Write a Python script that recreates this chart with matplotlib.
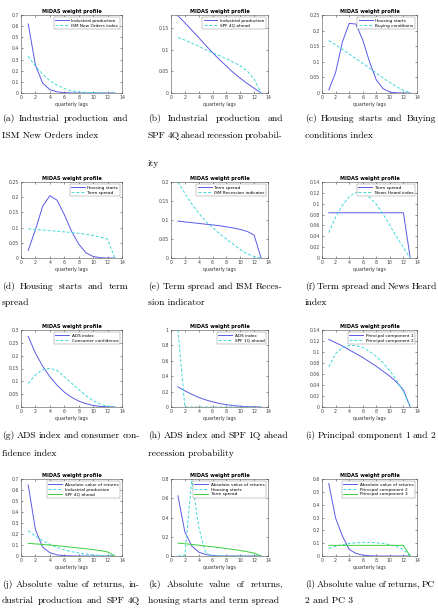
import matplotlib
matplotlib.use("Agg")
import matplotlib.pyplot as plt
from matplotlib.ticker import MultipleLocator, FormatStrFormatter

W, H = 438, 613

lags = list(range(1, 14))

# (a)
a_ip = [0.62, 0.25, 0.09, 0.03, 0.01, 0.003, 0.001, 0, 0, 0, 0, 0, 0]
a_ism = [0.33, 0.24, 0.17, 0.11, 0.07, 0.04, 0.02, 0.01, 0.006, 0.003, 0.001, 0, 0]
# (b)
b_ip = [0.178, 0.162, 0.145, 0.128, 0.110, 0.093, 0.077, 0.062, 0.047, 0.034, 0.022, 0.011, 0]
b_spf = [0.128, 0.122, 0.115, 0.108, 0.100, 0.093, 0.086, 0.079, 0.071, 0.063, 0.051, 0.032, 0]
# (c)
c_hs = [0.01, 0.065, 0.163, 0.223, 0.221, 0.17, 0.10, 0.042, 0.014, 0.003, 0.0005, 0, 0]
c_buy = [0.168, 0.155, 0.14, 0.125, 0.11, 0.095, 0.08, 0.064, 0.048, 0.034, 0.02, 0.008, 0.001]
# (d)
d_hs = [0.025, 0.093, 0.17, 0.205, 0.19, 0.143, 0.088, 0.046, 0.017, 0.005, 0.001, 0, 0]
d_ts = [0.096, 0.094, 0.092, 0.09, 0.088, 0.086, 0.084, 0.081, 0.078, 0.074, 0.069, 0.062, 0]
# (e)
e_ts = [0.097, 0.095, 0.093, 0.091, 0.089, 0.087, 0.085, 0.082, 0.079, 0.075, 0.07, 0.06, 0]
e_ism = [0.2, 0.17, 0.142, 0.118, 0.097, 0.08, 0.064, 0.05, 0.036, 0.022, 0.011, 0.004, 0]
# (f)
f_ts = [0.0833] * 12 + [0]
f_news = [0.047, 0.075, 0.097, 0.113, 0.121, 0.12, 0.112, 0.099, 0.081, 0.06, 0.039, 0.019, 0]
# (g)
g_ads = [0.275, 0.21, 0.159, 0.118, 0.085, 0.058, 0.038, 0.023, 0.013, 0.006, 0.002, 0.001, 0]
g_cc = [0.092, 0.125, 0.145, 0.151, 0.142, 0.118, 0.093, 0.068, 0.044, 0.024, 0.01, 0.003, 0]
# (h)
h_ads = [0.26, 0.21, 0.165, 0.125, 0.093, 0.067, 0.046, 0.03, 0.018, 0.01, 0.005, 0.002, 0]
h_spf = [1.0, 0, 0, 0, 0, 0, 0, 0, 0, 0, 0, 0, 0]
# (i)
i_pc1 = [0.123, 0.117, 0.111, 0.104, 0.097, 0.09, 0.082, 0.074, 0.065, 0.056, 0.045, 0.031, 0]
i_pc2 = [0.073, 0.097, 0.108, 0.112, 0.112, 0.108, 0.101, 0.092, 0.08, 0.066, 0.048, 0.028, 0]
# (j)
j_abs = [0.645, 0.24, 0.08, 0.03, 0.01, 0.003, 0.001, 0, 0, 0, 0, 0, 0]
j_ip = [0.23, 0.18, 0.14, 0.105, 0.078, 0.056, 0.04, 0.027, 0.017, 0.01, 0.005, 0.002, 0]
j_spf = [0.115, 0.11, 0.105, 0.099, 0.093, 0.087, 0.08, 0.073, 0.066, 0.058, 0.049, 0.037, 0]
# (k)
k_abs = [0.625, 0.25, 0.104, 0.04, 0.015, 0.005, 0.001, 0, 0, 0, 0, 0, 0]
k_hs = [0, 0.01, 0.8, 0.3, 0.03, 0.002, 0, 0, 0, 0, 0, 0, 0]
k_ts = [0.134, 0.127, 0.12, 0.112, 0.104, 0.096, 0.087, 0.078, 0.068, 0.057, 0.045, 0.03, 0]
# (l)
l_abs = [0.565, 0.296, 0.156, 0.052, 0.02, 0.007, 0.002, 0, 0, 0, 0, 0, 0]
l_pc2 = [0.06, 0.075, 0.088, 0.097, 0.103, 0.106, 0.106, 0.103, 0.098, 0.089, 0.074, 0.05, 0]
l_pc3 = [0.083] * 12 + [0]

captions = {
    "a": ["(a) Industrial production and", "ISM New Orders index"],
    "b": ["(b) Industrial production and", "SPF 4Q ahead recession probabil-", "ity"],
    "c": ["(c) Housing starts and Buying", "conditions index"],
    "d": ["(d) Housing starts and term", "spread"],
    "e": ["(e) Term spread and ISM Reces-", "sion indicator"],
    "f": ["(f) Term spread and News Heard", "index"],
    "g": ["(g) ADS index and consumer con-", "fidence index"],
    "h": ["(h) ADS index and SPF 1Q ahead", "recession probability"],
    "i": ["(i) Principal component 1 and 2"],
    "j": ["(j) Absolute value of returns, in-", "dustrial production and SPF 4Q"],
    "k": ["(k) Absolute value of returns,", "housing starts and term spread"],
    "l": ["(l) Absolute value of returns, PC", "2 and PC 3"],
}

BLUE = "#5a5ae6"
CYAN = "#3ed8d8"
GREEN = "#3ccf3c"

panels = [
    ("a", [(a_ip, "Industrial production", BLUE), (a_ism, "ISM New Orders index", CYAN)], 0.7, 0.1),
    ("b", [(b_ip, "Industrial production", BLUE), (b_spf, "SPF 4Q ahead", CYAN)], 0.18, 0.05),
    ("c", [(c_hs, "Housing starts", BLUE), (c_buy, "Buying conditions", CYAN)], 0.25, 0.05),
    ("d", [(d_hs, "Housing starts", BLUE), (d_ts, "Term spread", CYAN)], 0.25, 0.05),
    ("e", [(e_ts, "Term spread", BLUE), (e_ism, "ISM Recession indicator", CYAN)], 0.2, 0.05),
    ("f", [(f_ts, "Term spread", BLUE), (f_news, "News Heard index", CYAN)], 0.14, 0.02),
    ("g", [(g_ads, "ADS index", BLUE), (g_cc, "Consumer confidence", CYAN)], 0.3, 0.05),
    ("h", [(h_ads, "ADS index", BLUE), (h_spf, "SPF 1Q ahead", CYAN)], 1.0, 0.2),
    ("i", [(i_pc1, "Principal component 1", BLUE), (i_pc2, "Principal component 2", CYAN)], 0.14, 0.02),
    ("j", [(j_abs, "Absolute value of returns", BLUE), (j_ip, "Industrial production", CYAN),
           (j_spf, "SPF 4Q ahead", GREEN)], 0.7, 0.1),
    ("k", [(k_abs, "Absolute value of returns", BLUE), (k_hs, "Housing starts", CYAN),
           (k_ts, "Term spread", GREEN)], 0.8, 0.2),
    ("l", [(l_abs, "Absolute value of returns", BLUE), (l_pc2, "Principal component 2", CYAN),
           (l_pc3, "Principal component 3", GREEN)], 0.6, 0.1),
]

# pixel layout
col_left = [21, 171, 322]
col_right = [122, 268, 417]
row_top = [15, 182, 330, 479]
row_bot = [93, 258, 407, 556]
cap_left = [2, 148, 305]
cap_right = {"a": 128, "b": 283, "c": 436, "d": 128, "e": 283, "f": 437,
             "g": 140, "h": 288, "i": 435, "j": 140, "k": 283, "l": 435}
cap_base = [[121, 138, 166], [289, 305], [438, 456], [587, 603]]
justified = {"b": [True, True, False], "j": [True, True, False], "i": [True]}

fig = plt.figure(figsize=(W / 100, H / 100), dpi=100)
renderer = fig.canvas.get_renderer()
SERIF = ["cmr10", "DejaVu Serif"]
CAP_FS = 6.9


def caption_line(text, x0, x1, y, justify):
    if not justify:
        fig.text(x0 / W, 1 - y / H, text, family=SERIF, fontsize=CAP_FS, va="baseline", ha="left")
        return
    words = text.split(" ")
    objs = [fig.text(0, 1 - y / H, w, family=SERIF, fontsize=CAP_FS, va="baseline", ha="left") for w in words]
    widths = [o.get_window_extent(renderer).width for o in objs]
    gap = (x1 - x0 - sum(widths)) / max(len(words) - 1, 1)
    x = x0
    for o, wd in zip(objs, widths):
        o.set_x(x / W)
        x += wd + gap


for idx, (key, series, ytop, ystep) in enumerate(panels):
    r, c = divmod(idx, 3)
    l, t, rt, b = col_left[c], row_top[r], col_right[c], row_bot[r]
    ax = fig.add_axes([l / W, 1 - b / H, (rt - l) / W, (b - t) / H])
    for vals, label, color in series:
        ls = (0, (3, 2)) if color == CYAN else "-"
        ax.plot(lags, vals, color=color, linestyle=ls, linewidth=0.7, label=label)
    ax.set_xlim(0, 14)
    ax.set_ylim(0, ytop)
    ax.xaxis.set_major_locator(MultipleLocator(2))
    ax.yaxis.set_major_locator(MultipleLocator(ystep))
    ax.xaxis.set_major_formatter(FormatStrFormatter("%g"))
    ax.yaxis.set_major_formatter(FormatStrFormatter("%g"))
    ax.tick_params(direction="in", length=1.5, width=0.4, labelsize=3.3, pad=1.5,
                   colors="0.25", top=True, right=True)
    for sp in ax.spines.values():
        sp.set_linewidth(0.4)
        sp.set_color("0.3")
    ax.set_title("MIDAS weight profile", fontsize=3.6, fontweight="bold", pad=1.5)
    ax.set_xlabel("quarterly lags", fontsize=3.4, labelpad=1.5, color="0.2")
    leg = ax.legend(loc="upper right", fontsize=3.1, frameon=True, fancybox=False,
                    edgecolor="0.5", framealpha=1, borderpad=0.35, handlelength=3.2,
                    labelspacing=0.2, handletextpad=0.6, borderaxespad=0.5)
    leg.get_frame().set_linewidth(0.3)

    lines = captions[key]
    flags = justified.get(key, [True] + [False] * (len(lines) - 1))
    for k, line in enumerate(lines):
        caption_line(line, cap_left[c], cap_right[key], cap_base[r][k], flags[k])

fig.savefig("out.png", dpi=100)
